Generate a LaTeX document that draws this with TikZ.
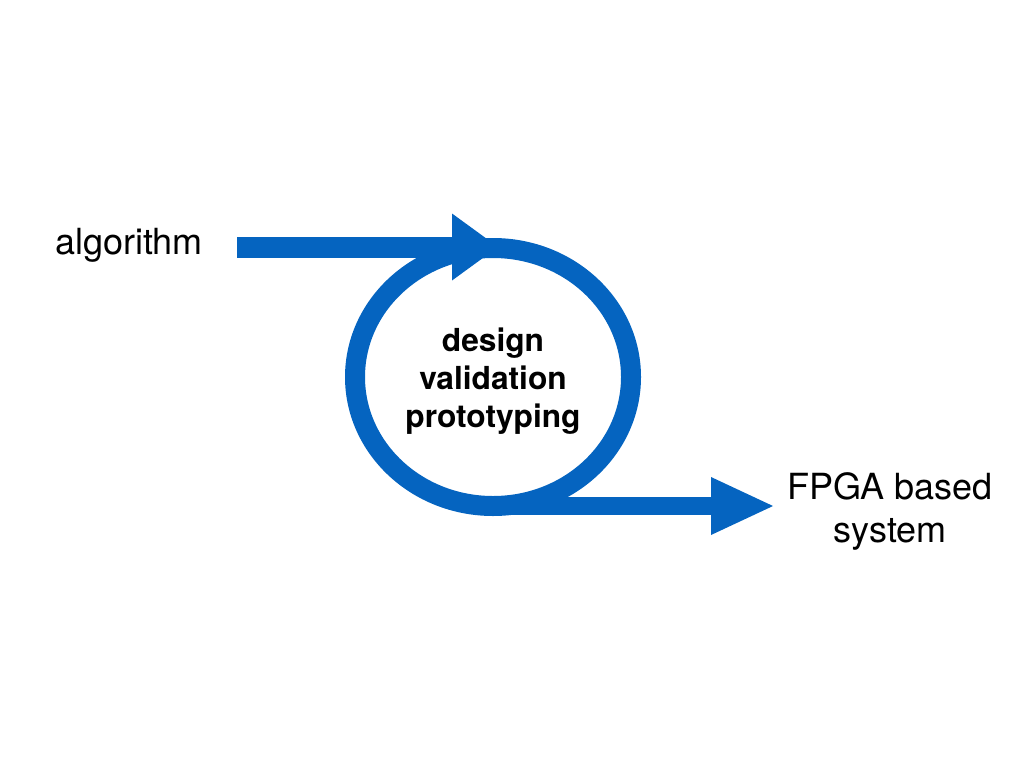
\documentclass[tikz,border=0pt]{standalone}
\usepackage{fontspec}
\setmainfont{TeX Gyre Heros}
\usetikzlibrary{arrows.meta,shapes.geometric}
\definecolor{flowblue}{RGB}{5,100,192}
\tikzset{
  lbl/.style={inner sep=0pt, outer sep=0pt, text=black, font=\fontsize{36}{43}\selectfont},
  inner/.style={inner sep=0pt, outer sep=0pt, text=black, align=center, font=\fontsize{31.7}{38}\selectfont\bfseries},
  loopring/.style={ellipse, draw=flowblue, line width=20pt, inner sep=0pt, outer sep=0pt,
    minimum width=276pt, minimum height=258pt},
  flowin/.style={draw=flowblue, line width=21pt, line cap=butt,
    -{Triangle[length=46pt, width=67pt, line width=0pt, color=flowblue]}},
  flowout/.style={draw=flowblue, line width=18pt, line cap=butt,
    -{Triangle[length=62pt, width=58pt, line width=0pt, color=flowblue]}}
}
\begin{document}
\begin{tikzpicture}[x=1pt, y=-1pt]
\useasboundingbox (0,0) rectangle (1024,768);
\node[loopring] (loop) at (493,377) {};
\node[inner, anchor=base] (stages) at (493,427) {design\\validation\\prototyping};
\node[lbl, anchor=base west] (alg) at (55,254) {algorithm};
\node[lbl, anchor=base, align=center] (fpga) at (890,542) {FPGA based\\system};
\coordinate (inStart) at (237,247);
\coordinate (inTip) at (498,247);
\coordinate (outTip) at (773,506);
\draw[flowin] (inStart) -- (inTip);
\draw[flowout] (loop.south) -- (outTip);
\end{tikzpicture}
\end{document}
